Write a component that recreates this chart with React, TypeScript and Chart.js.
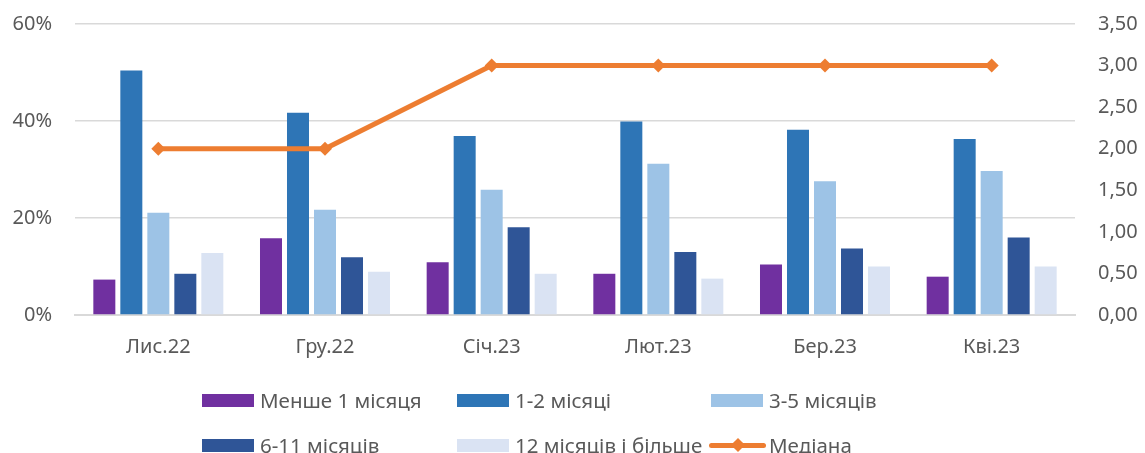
import React, { useEffect, useRef } from "react";
import { Chart, registerables } from "chart.js";

Chart.register(...registerables);

const categories = ["Лис.22", "Гру.22", "Січ.23", "Лют.23", "Бер.23", "Кві.23"];
const lessThan1 = [7.3, 15.8, 10.9, 8.5, 10.4, 7.9];
const months1to2 = [50.4, 41.7, 36.9, 39.9, 38.2, 36.3];
const months3to5 = [21.1, 21.7, 25.8, 31.2, 27.6, 29.7];
const months6to11 = [8.5, 11.9, 18.1, 13.0, 13.7, 16.0];
const months12plus = [12.8, 8.9, 8.5, 7.5, 10.0, 10.0];
const median = [2, 2, 3, 3, 3, 3];
const leftTicks = [0, 20, 40, 60];

const seriesNames = [
  "Менше 1 місяця",
  "1-2 місяці",
  "3-5 місяців",
  "6-11 місяців",
  "12 місяців і більше",
  "Медіана",
];
const colors = ["#7030A0", "#2E75B6", "#9DC3E6", "#2F5597", "#DAE3F3", "#ED7D31"];

const FONT = "'Noto Sans', 'Liberation Sans', sans-serif";
const TEXT = "#595959";

export default function App() {
  const ref = useRef<HTMLCanvasElement | null>(null);

  useEffect(() => {
    document.body.style.margin = "0";
    const barSets = [lessThan1, months1to2, months3to5, months6to11, months12plus];
    const chart = new Chart(ref.current!, {
      type: "bar",
      data: {
        labels: categories,
        datasets: [
          {
            type: "line",
            label: seriesNames[5],
            data: median,
            yAxisID: "y1",
            borderColor: colors[5],
            backgroundColor: colors[5],
            borderWidth: 5,
            pointStyle: "rectRot",
            pointRadius: 7,
            pointBorderWidth: 0,
            order: 0,
          } as any,
          ...barSets.map((d, i) => ({
            type: "bar" as const,
            label: seriesNames[i],
            data: d,
            yAxisID: "y",
            backgroundColor: colors[i],
            categoryPercentage: 0.81,
            barPercentage: 0.815,
            order: 1,
          })),
        ],
      },
      options: {
        responsive: false,
        animation: false,
        layout: { padding: { top: 24, left: 0, right: 0, bottom: 0 } },
        plugins: { legend: { display: false }, tooltip: { enabled: false } },
        scales: {
          x: {
            grid: { display: false, drawTicks: false },
            border: { display: true, color: "#D9D9D9", width: 2 },
            ticks: { color: TEXT, font: { family: FONT, size: 20 }, padding: 20 },
            afterFit: (s: any) => {
              s.height = 138;
              s.paddingLeft = 0;
              s.paddingRight = 0;
            },
          },
          y: {
            position: "left",
            min: 0,
            max: 60,
            afterBuildTicks: (s: any) => {
              s.ticks = leftTicks.map((v) => ({ value: v }));
            },
            grid: { color: "#D9D9D9", lineWidth: 1.5, drawTicks: false },
            border: { display: false },
            ticks: {
              color: TEXT,
              font: { family: FONT, size: 20 },
              padding: 23,
              callback: (v: any) => `${v}%`,
            },
            afterFit: (s: any) => {
              s.width = 75;
              s.paddingTop = 0;
              s.paddingBottom = 0;
            },
          },
          y1: {
            position: "right",
            min: 0,
            max: 3.5,
            grid: { display: false, drawTicks: false },
            border: { display: false },
            ticks: {
              stepSize: 0.5,
              color: TEXT,
              font: { family: FONT, size: 20 },
              padding: 23,
              callback: (v: any) => Number(v).toFixed(2).replace(".", ","),
            },
            afterFit: (s: any) => {
              s.width = 70;
              s.paddingTop = 0;
              s.paddingBottom = 0;
            },
          },
        },
      },
    });
    return () => chart.destroy();
  }, []);

  const itemStyle = (x: number, y: number): React.CSSProperties => ({
    position: "absolute",
    left: x,
    top: y - 15,
    height: 30,
    display: "flex",
    alignItems: "center",
    fontFamily: FONT,
    fontSize: 20.5,
    color: TEXT,
    whiteSpace: "nowrap",
  });
  const box = (c: string): React.CSSProperties => ({
    width: 52,
    height: 13,
    background: c,
    marginRight: 6,
  });
  const legendPos = [
    [202, 400],
    [457, 400],
    [711, 400],
    [202, 445],
    [457, 445],
  ];

  return (
    <div style={{ position: "relative", width: 1145, height: 453, background: "#fff" }}>
      <canvas ref={ref} width={1145} height={453} style={{ display: "block" }} />
      {legendPos.map(([x, y], i) => (
        <div key={i} style={itemStyle(x, y)}>
          <div style={box(colors[i])} />
          <span>{seriesNames[i]}</span>
        </div>
      ))}
      <div style={itemStyle(709, 445)}>
        <div style={{ position: "relative", width: 57, height: 14, marginRight: 3 }}>
          <div
            style={{
              position: "absolute",
              left: 0,
              top: 4.5,
              width: 57,
              height: 5,
              borderRadius: 3,
              background: colors[5],
            }}
          />
          <div
            style={{
              position: "absolute",
              left: 23.5,
              top: 2,
              width: 10,
              height: 10,
              transform: "rotate(45deg)",
              background: colors[5],
            }}
          />
        </div>
        <span>{seriesNames[5]}</span>
      </div>
    </div>
  );
}
